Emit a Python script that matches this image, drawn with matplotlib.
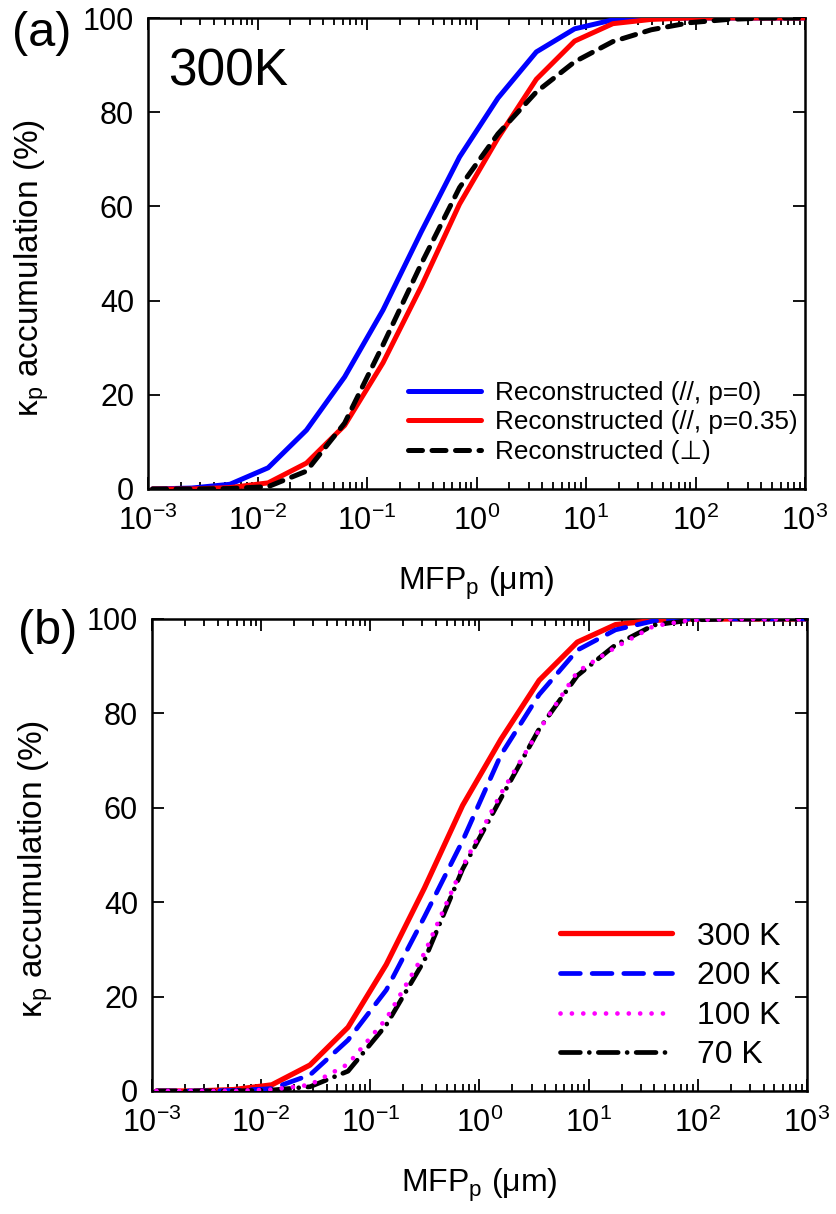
import matplotlib
matplotlib.use("Agg")
import matplotlib.pyplot as plt
from matplotlib.ticker import LogLocator, NullFormatter, FixedLocator

plt.rcParams['font.family'] = ['Liberation Sans', 'DejaVu Sans']
plt.rcParams['mathtext.fontset'] = 'custom'
plt.rcParams['mathtext.rm'] = 'Liberation Sans'
plt.rcParams['mathtext.it'] = 'Liberation Sans:italic'
plt.rcParams['mathtext.bf'] = 'Liberation Sans:bold'
plt.rcParams['axes.unicode_minus'] = False

# Phonon mean free path grid (um)
mfp = [0.0011, 0.0025, 0.0056, 0.0125, 0.028, 0.0625, 0.14, 0.313, 0.70,
       1.57, 3.52, 7.87, 17.6, 39.4, 88.3, 198, 443, 991]

# (a) 300 K accumulation (%)
acc_par_p0 = [0, 0.2, 1.0, 4.5, 12.5, 23.8, 38.0, 54.6, 70.5,
              83.0, 92.8, 97.7, 99.6, 100, 100, 100, 100, 100]
acc_par_p035 = [0, 0, 0.3, 1.3, 5.5, 13.5, 26.8, 43.0, 60.5,
                74.5, 87.0, 95.1, 98.8, 99.7, 100, 100, 100, 100]
acc_perp = [0, 0, 0.1, 0.5, 3.8, 14.0, 30.6, 47.8, 64.0,
            75.4, 84.3, 90.7, 95.0, 97.5, 99.0, 99.7, 100, 100]

# (b) temperature dependence (%)
acc_300K = acc_par_p035
acc_200K = [0, 0, 0.1, 0.5, 3.4, 10.8, 21.4, 36.9, 53.0,
            71.2, 84.0, 93.4, 97.7, 99.6, 100, 100, 100, 100]
acc_100K = [0, 0, 0, 0.3, 1.3, 5.7, 15.3, 29.2, 47.5,
            63.0, 76.5, 88.8, 94.0, 98.5, 99.8, 100, 100, 100]
acc_70K = [0, 0, 0, 0.2, 0.9, 4.2, 14.0, 27.7, 47.0,
           62.0, 76.7, 88.0, 94.5, 98.7, 99.8, 100, 100, 100]

labels_a = ['Reconstructed (//, p=0)', 'Reconstructed (//, p=0.35)',
            'Reconstructed (\u22a5)']
labels_b = ['300 K', '200 K', '100 K', '70 K']
yticks = [0, 20, 40, 60, 80, 100]

W, H = 836, 1214
fig = plt.figure(figsize=(W / 100, H / 100), dpi=100)


def px_axes(l, t, r, b):
    return fig.add_axes([l / W, 1 - b / H, (r - l) / W, (b - t) / H])


def style(ax):
    ax.set_xscale('log')
    ax.set_xlim(1e-3, 1e3)
    ax.set_ylim(0, 100)
    ax.xaxis.set_major_locator(LogLocator(base=10, numticks=20))
    ax.xaxis.set_minor_locator(LogLocator(base=10, subs=range(2, 10), numticks=20))
    ax.xaxis.set_minor_formatter(NullFormatter())
    ax.yaxis.set_major_locator(FixedLocator(yticks))
    for s in ax.spines.values():
        s.set_linewidth(1.8)
    ax.tick_params(which='both', direction='in', top=True, right=True, width=1.3)
    ax.tick_params(which='major', length=8.5, labelsize=22)
    ax.tick_params(which='minor', length=5)
    ax.tick_params(axis='x', which='major', pad=12)
    ax.tick_params(axis='y', which='major', pad=10)
    ax.set_xlabel('MFP$_\\mathrm{p}$ (\u03bcm)', fontsize=23)
    ax.set_ylabel('\u03ba$_\\mathrm{p}$ accumulation (%)', fontsize=24)
    ax.xaxis.set_label_coords(0.5, -0.16)
    ax.yaxis.set_label_coords(-0.148, 0.47)


# Panel (a)
ax1 = px_axes(148, 18, 805, 489)
style(ax1)
lw = 3.6
ax1.plot(mfp, acc_par_p0, color='#0000ff', lw=lw, label=labels_a[0],
         solid_capstyle='round', zorder=3)
ax1.plot(mfp, acc_par_p035, color='#ff0000', lw=lw, label=labels_a[1],
         solid_capstyle='round', zorder=3)
ax1.plot(mfp, acc_perp, color='black', lw=lw, ls=(0, (2.8, 1.9)),
         dash_capstyle='round', label=labels_a[2], zorder=4)
ax1.legend(loc='center left', bbox_to_anchor=((408 - 148) / 657, (489 - 422.5) / 471),
           frameon=False, fontsize=18.8, handlelength=2.8, handletextpad=0.55,
           labelspacing=0.22, borderpad=0, borderaxespad=0)
fig.text(168 / W, 1 - 85 / H, '300K', fontsize=37, va='baseline', ha='left')
fig.text(12 / W, 1 - 34 / H, '(a)', fontsize=35, va='center', ha='left')

# Panel (b)
ax2 = px_axes(152, 619, 807, 1091)
style(ax2)
lw2 = 3.4
ax2.plot(mfp, acc_300K, color='#ff0000', lw=3.8, label=labels_b[0],
         solid_capstyle='round', zorder=3)
ax2.plot(mfp, acc_200K, color='#0000ff', lw=lw2, ls=(0, (4.2, 2.5)),
         dash_capstyle='round', label=labels_b[1], zorder=3)
ax2.plot(mfp, acc_100K, color='#ff00ff', lw=lw2, ls=(0, (0.01, 2.4)),
         dash_capstyle='round', label=labels_b[2], zorder=4)
ax2.plot(mfp, acc_70K, color='black', lw=lw2, ls=(0, (4.2, 1.9, 0.01, 1.9)),
         dash_capstyle='round', label=labels_b[3], zorder=3)
ax2.legend(loc='center left', bbox_to_anchor=((560 - 152) / 655, (1091 - 996) / 472),
           frameon=False, fontsize=23, handlelength=3.5, handletextpad=0.8,
           labelspacing=0.3, borderpad=0, borderaxespad=0)
fig.text(18 / W, 1 - 632 / H, '(b)', fontsize=35, va='center', ha='left')

fig.savefig('out.png', dpi=100)
